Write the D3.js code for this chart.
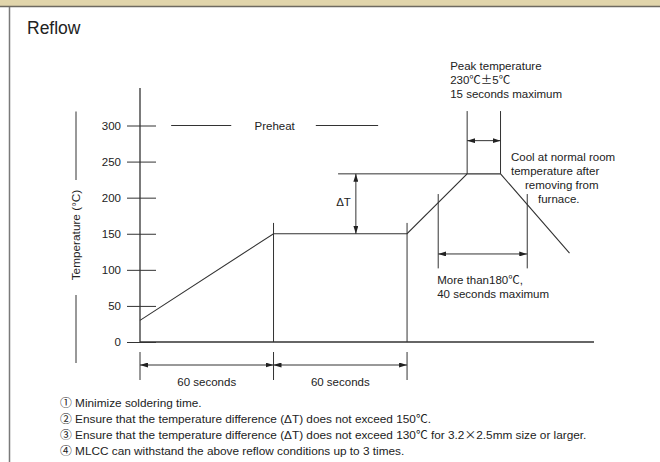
<!DOCTYPE html>
<html>
<head>
<meta charset="utf-8">
<script src="https://cdn.jsdelivr.net/npm/d3@7"></script>
<style>
  body { margin: 0; background: #fff; }
  svg { display: block; font-family: "Liberation Sans", Arial, Helvetica, sans-serif; }
</style>
</head>
<body>
<div id="chart"></div>
<script>
// Reflow soldering profile (time in seconds, temperature in °C)
const yTicks = [0, 50, 100, 150, 200, 250, 300];
const profileTime = [0, 60, 120, 147, 162, 193];
const profileTemp = [30, 150, 150, 233, 233, 123];
const stageBounds = [0, 60, 120];
const stageLabels = ["60 seconds", "60 seconds"];
const peakWindow = [147, 162];
const above180Window = [134, 174];
const peakText = ["Peak temperature", "230℃±5℃", "15 seconds maximum"];
const above180Text = ["More than180℃,", "40 seconds maximum"];
const coolText = ["Cool at normal room", "temperature after", "removing from", "furnace."];
const notes = [
  "① Minimize soldering time.",
  "② Ensure that the temperature difference (ΔT) does not exceed 150℃.",
  "③ Ensure that the temperature difference (ΔT) does not exceed 130℃ for 3.2×2.5mm size or larger.",
  "④ MLCC can withstand the above reflow conditions up to 3 times."
];

const W = 660, H = 462;
const ink = "#222", line = "#333";
const wide = /[℃±×①②③④]/;

const svg = d3.select("#chart").append("svg")
  .attr("width", W)
  .attr("height", H);

// arrow head
svg.append("defs").append("marker")
  .attr("id", "arr")
  .attr("viewBox", "0 0 8 5")
  .attr("refX", 8).attr("refY", 2.5)
  .attr("markerWidth", 8).attr("markerHeight", 5)
  .attr("markerUnits", "userSpaceOnUse")
  .attr("orient", "auto-start-reverse")
  .append("path")
  .attr("d", "M0,0 L8,2.5 L0,5 Z")
  .attr("fill", ink);

// text with full-width symbols set in a CJK face
function label(parent, s, xp, yp, size) {
  const t = parent.append("text")
    .attr("x", xp).attr("y", yp).attr("dy", "0.35em")
    .attr("fill", ink).style("font-size", size + "px");
  let run = "";
  for (const ch of s) {
    if (wide.test(ch)) {
      if (run) t.append("tspan").text(run);
      run = "";
      t.append("tspan").style("font-family", "'Noto Sans CJK JP'").text(ch);
    } else run += ch;
  }
  if (run) t.append("tspan").text(run);
  return t;
}

// page frame: tan header band and left rule
svg.append("rect").attr("x", 0).attr("y", 0).attr("width", W).attr("height", 6).attr("fill", "#e1d5ab");
svg.append("line").attr("x1", 0).attr("x2", W).attr("y1", 6.5).attr("y2", 6.5)
  .attr("stroke", "#6e6a60").attr("stroke-width", 1.5);
svg.append("line").attr("x1", 9.5).attr("x2", 9.5).attr("y1", 7).attr("y2", H)
  .attr("stroke", "#7a7a7a").attr("stroke-width", 1.5);

svg.append("text")
  .attr("x", 27).attr("y", 33.5)
  .style("font-size", "17.5px")
  .attr("fill", ink)
  .text("Reflow");

// scales
const x = d3.scaleLinear().domain([0, 204]).range([140, 594]);
const y = d3.scaleLinear().domain([0, 300]).range([342, 125.5]);

const g = svg.append("g");

function seg(x1, y1, x2, y2, arrows) {
  const l = g.append("line")
    .attr("x1", x1).attr("y1", y1).attr("x2", x2).attr("y2", y2)
    .attr("stroke", line).attr("stroke-width", 1);
  if (arrows) l.attr("marker-start", "url(#arr)").attr("marker-end", "url(#arr)");
  return l;
}

// axes
seg(x(0), y(0), x(204), y(0)).attr("stroke-width", 1.3);
seg(x(0), y(0), x(0), y(352)).attr("stroke-width", 1.3);

const yAxis = g.append("g")
  .attr("transform", `translate(${x(0)},0)`)
  .call(d3.axisLeft(y).tickValues(yTicks).tickSize(13).tickPadding(6));
yAxis.select(".domain").remove();
yAxis.selectAll(".tick line").attr("x1", -13).attr("x2", 16).attr("stroke", line);
yAxis.selectAll(".tick text")
  .attr("fill", ink)
  .style("font-size", "11.5px")
  .style("font-family", "'Liberation Sans', Arial, sans-serif");

// y axis title with rules above and below
svg.append("text")
  .attr("transform", "translate(76,235) rotate(-90)")
  .attr("text-anchor", "middle")
  .attr("dy", "0.35em")
  .attr("fill", ink)
  .style("font-size", "11.8px")
  .text("Temperature (°C)");
seg(76, 111.5, 76, 180);
seg(76, 295, 76, 363);

// preheat label
seg(x(14), y(300), x(41), y(300));
seg(x(79), y(300), x(107), y(300));
g.append("text")
  .attr("x", x(60.5)).attr("y", y(300)).attr("dy", "0.35em")
  .attr("text-anchor", "middle")
  .attr("fill", ink).style("font-size", "11.5px")
  .text("Preheat");

// temperature profile
g.append("path")
  .datum(d3.zip(profileTime, profileTemp))
  .attr("d", d3.line().x(d => x(d[0])).y(d => y(d[1])))
  .attr("fill", "none")
  .attr("stroke", line)
  .attr("stroke-width", 1.1);

// stage boundaries
stageBounds.slice(1).forEach(t => seg(x(t), y(165), x(t), y(0)));

// stage duration dimensions below the axis
const dimTop = y(0) + 10, dimBot = y(0) + 38, dimY = y(0) + 23;
stageBounds.forEach(t => seg(x(t), dimTop, x(t), dimBot));
stageLabels.forEach((lab, i) => {
  seg(x(stageBounds[i]), dimY, x(stageBounds[i + 1]), dimY, true);
  g.append("text")
    .attr("x", (x(stageBounds[i]) + x(stageBounds[i + 1])) / 2)
    .attr("y", y(0) + 40).attr("dy", "0.35em")
    .attr("text-anchor", "middle")
    .attr("fill", ink).style("font-size", "11.5px")
    .text(lab);
});

// delta T
const peakT = profileTemp[3], soakT = profileTemp[1];
seg(x(89), y(peakT), x(peakWindow[0]), y(peakT));
seg(x(97), y(peakT), x(97), y(soakT), true);
g.append("text")
  .attr("x", x(97) - 5).attr("y", (y(peakT) + y(soakT)) / 2 - 1.5).attr("dy", "0.35em")
  .attr("text-anchor", "end")
  .attr("fill", ink).style("font-size", "11.5px")
  .text("ΔT");

// peak window
peakWindow.forEach(t => seg(x(t), y(320), x(t), y(peakT)));
seg(x(peakWindow[0]), y(279), x(peakWindow[1]), y(279), true);
peakText.forEach((s, i) => label(g, s, x(peakWindow[0]) - 17, 66 + i * 14, 11.5));

// time above 180
above180Window.forEach(t => seg(x(t), y(205), x(t), y(102)));
seg(x(above180Window[0]), y(122), x(above180Window[1]), y(122), true);
above180Text.forEach((s, i) => label(g, s, x(above180Window[0]) - 1, 280 + i * 14, 11.5));

// cooling note
const coolX = [511, 511, 525, 538];
coolText.forEach((s, i) => label(g, s, coolX[i], 157.3 + i * 14, 11.5));

// notes
notes.forEach((s, i) => label(svg, s, 60, 403.3 + i * 15.8, 11.8));
</script>
</body>
</html>
